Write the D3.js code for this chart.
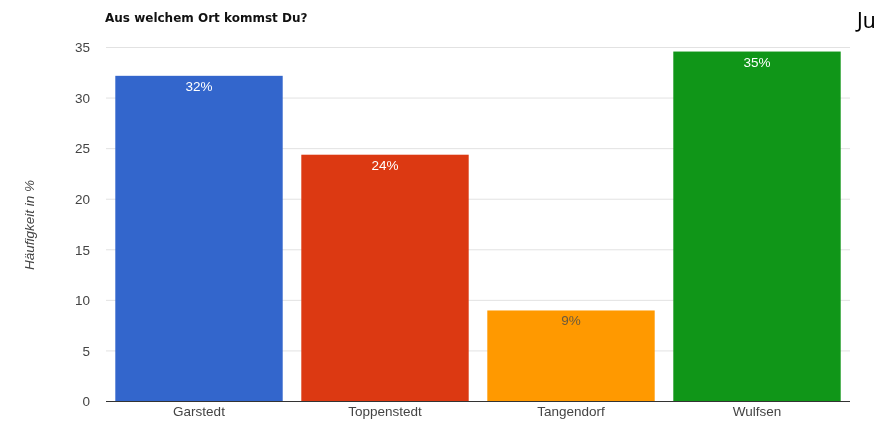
<!DOCTYPE html>
<html>
<head>
<meta charset="utf-8">
<script src="https://cdn.jsdelivr.net/npm/d3@7/dist/d3.min.js"></script>
<style>
  html, body { margin: 0; padding: 0; background: #fff; }
  svg { display: block; filter: blur(0.4px); }
</style>
</head>
<body>
<svg id="chart" width="879" height="422"></svg>
<script>
// Survey answers: share of respondents per village (percent)
const places = ["Garstedt", "Toppenstedt", "Tangendorf", "Wulfsen"];
const shares = [32.2, 24.4, 9.0, 34.6];
const barColors = ["#3366cc", "#dc3912", "#ff9900", "#109618"];
const labelColors = ["#ffffff", "#ffffff", "#6b5a3c", "#ffffff"];
const yTicks = [0, 5, 10, 15, 20, 25, 30, 35];

const svg = d3.select("#chart");
const margin = { left: 106, right: 29, top: 47.5, bottom: 20.5 };
const W = 879, H = 422;
const FONT = "Liberation Sans, Arial, sans-serif";

const x = d3.scaleBand()
  .domain(places)
  .range([margin.left, W - margin.right])
  .paddingInner(0.1)
  .paddingOuter(0.05);

const y = d3.scaleLinear()
  .domain([0, 35])
  .range([H - margin.bottom, margin.top]);

// horizontal gridlines
svg.append("g")
  .selectAll("line")
  .data(yTicks.filter(t => t > 0))
  .join("line")
  .attr("x1", margin.left)
  .attr("x2", W - margin.right)
  .attr("y1", d => y(d))
  .attr("y2", d => y(d))
  .attr("stroke", "#e2e2e2")
  .attr("stroke-width", 1);

// y axis tick labels
const yAxis = d3.axisLeft(y).tickValues(yTicks).tickSize(0).tickPadding(16);
svg.append("g")
  .attr("transform", `translate(${margin.left},0)`)
  .call(yAxis)
  .call(g => g.select(".domain").remove())
  .call(g => g.selectAll("text")
    .attr("fill", "#444")
    .attr("font-family", FONT)
    .attr("font-size", 13.5));

// bars
const data = places.map((p, i) => ({ place: p, value: shares[i], color: barColors[i], lc: labelColors[i] }));
svg.append("g")
  .selectAll("rect")
  .data(data)
  .join("rect")
  .attr("x", d => x(d.place))
  .attr("width", x.bandwidth())
  .attr("y", d => y(d.value))
  .attr("height", d => y(0) - y(d.value))
  .attr("fill", d => d.color);

// value labels inside bars
svg.append("g")
  .selectAll("text")
  .data(data)
  .join("text")
  .attr("x", d => x(d.place) + x.bandwidth() / 2)
  .attr("y", d => y(d.value) + 15)
  .attr("text-anchor", "middle")
  .attr("fill", d => d.lc)
  .attr("font-family", FONT)
  .attr("font-size", 13.5)
  .text(d => d3.format(".0f")(d.value) + "%");

// baseline
svg.append("line")
  .attr("x1", margin.left)
  .attr("x2", W - margin.right)
  .attr("y1", y(0))
  .attr("y2", y(0))
  .attr("stroke", "#333")
  .attr("stroke-width", 1);

// x axis category labels
const xAxis = d3.axisBottom(x).tickSize(0).tickPadding(5);
svg.append("g")
  .attr("transform", `translate(0,${y(0)})`)
  .call(xAxis)
  .call(g => g.select(".domain").remove())
  .call(g => g.selectAll("text")
    .attr("fill", "#444")
    .attr("font-family", FONT)
    .attr("font-size", 13.5));

// y axis title
svg.append("text")
  .attr("transform", `translate(34,225) rotate(-90)`)
  .attr("text-anchor", "middle")
  .attr("fill", "#444")
  .attr("font-family", FONT)
  .attr("font-size", 13.5)
  .attr("font-style", "italic")
  .text("Häufigkeit in %");

// chart title
svg.append("text")
  .attr("x", 105)
  .attr("y", 22)
  .attr("fill", "#111")
  .attr("font-family", "DejaVu Sans, Verdana, sans-serif")
  .attr("font-size", 12)
  .attr("font-weight", "bold")
  .text("Aus welchem Ort kommst Du?");

// page text at the top right
svg.append("text")
  .attr("x", 857)
  .attr("y", 28)
  .attr("fill", "#000")
  .attr("font-family", "Noto Sans, Open Sans, sans-serif")
  .attr("font-size", 21)
  .text("Ju");
</script>
</body>
</html>
